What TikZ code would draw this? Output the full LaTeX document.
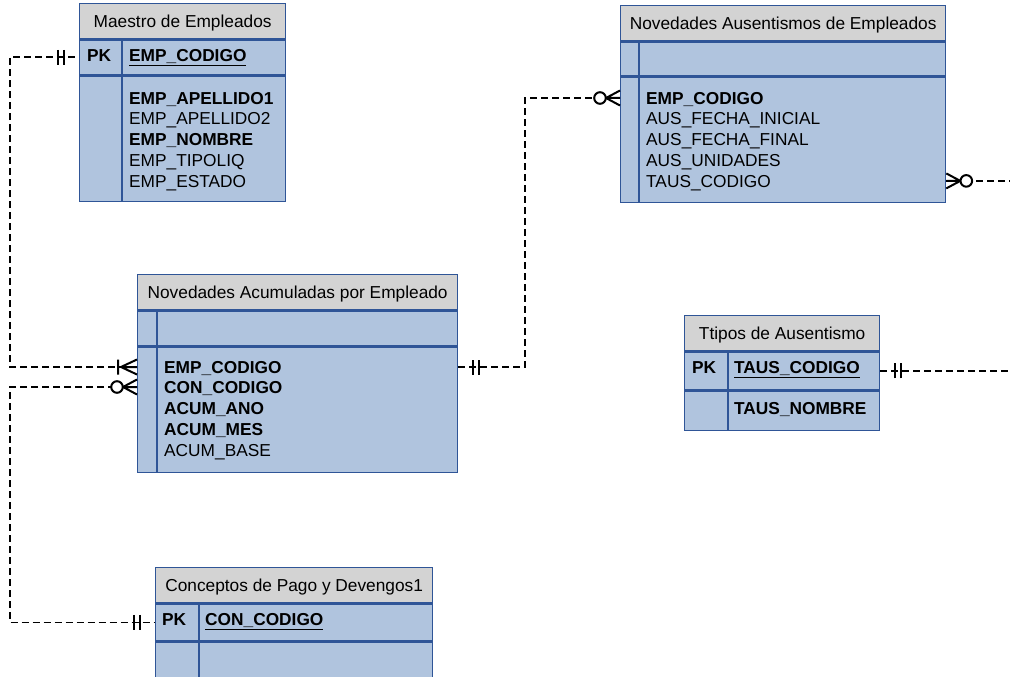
\documentclass[tikz,border=0pt]{standalone}
\usepackage{fontspec}
\setmainfont{Liberation Sans}
\usetikzlibrary{calc}
\definecolor{hdrgray}{RGB}{211,211,211}
\definecolor{rowblue}{RGB}{176,196,222}
\definecolor{edgeblue}{RGB}{47,85,151}
\tikzset{
  % relationship end symbols, drawn with the entity at the origin and the line running to -x
  onlyone/.pic={\draw[sym] (-15,-7.5)--(-15,7.5) (-21,-7.5)--(-21,7.5);},
  onemany/.pic={\draw[sym] (-19,-7.5)--(-19,7.5) (0,-7.5)--(-16,0)--(0,7.5) (-16,0)--(0,0);},
  zeromany/.pic={\draw[sym] (0,-7.5)--(-14,0)--(0,7.5) (-14,0)--(0,0);
                 \draw[sym,fill=white] (-20,0) circle[radius=5.8pt];}
}
\begin{document}
\begin{tikzpicture}[x=1pt,y=-1pt,
  font=\fontsize{17.3}{20.7}\selectfont,
  cell/.style={draw=edgeblue,line width=1.3pt,inner sep=0pt,anchor=north west,rectangle},
  head/.style={cell,fill=hdrgray,text height=12.4pt,text depth=0pt},
  band/.style={cell,fill=rowblue},
  divider/.style={draw=edgeblue,line width=1.3pt},
  field/.style={anchor=west,inner sep=0pt,text height=12.4pt,text depth=0pt},
  key/.style={field,font=\fontsize{17.3}{20.7}\selectfont\bfseries},
  rel/.style={draw=black,line width=1.9pt,dash pattern=on 7pt off 4pt},
  sym/.style={solid,draw=black,line width=2pt}
]
\useasboundingbox (0,0) rectangle (1010,677);
\clip (0,0) rectangle (1010,677);
\fill[white] (0,0) rectangle (1010,677);

% ---------- Maestro de Empleados ----------
\node[head,minimum width=206pt,minimum height=35pt] (emp-h) at (79,3) {Maestro de Empleados};
\node[band,minimum width=206pt,minimum height=35pt] (emp-pk) at (emp-h.south west) {};
\node[band,minimum width=206pt,minimum height=125pt] (emp-b) at (emp-pk.south west) {};
\draw[divider] ($(emp-pk.north west)+(43,0)$) -- ($(emp-b.south west)+(43,0)$);
\node[key] (emp-pkl) at (87,55) {PK};
\node[key] (emp-k) at (129,55) {\underline{EMP\_CODIGO}};
\node[key]   (emp-f1) at (129,98)  {EMP\_APELLIDO1};
\node[field] (emp-f2) at (129,118) {EMP\_APELLIDO2};
\node[key]   (emp-f3) at (129,139) {EMP\_NOMBRE};
\node[field] (emp-f4) at (129,160) {EMP\_TIPOLIQ};
\node[field] (emp-f5) at (129,181) {EMP\_ESTADO};

% ---------- Novedades Ausentismos de Empleados ----------
\node[head,minimum width=325pt,minimum height=35pt] (aus-h) at (620,5) {Novedades Ausentismos de Empleados};
\node[band,minimum width=325pt,minimum height=34pt] (aus-pk) at (aus-h.south west) {};
\node[band,minimum width=325pt,minimum height=125pt] (aus-b) at (aus-pk.south west) {};
\draw[divider] ($(aus-pk.north west)+(19,0)$) -- ($(aus-b.south west)+(19,0)$);
\node[key]   (aus-f1) at (646,98)  {EMP\_CODIGO};
\node[field] (aus-f2) at (646,118) {AUS\_FECHA\_INICIAL};
\node[field] (aus-f3) at (646,139) {AUS\_FECHA\_FINAL};
\node[field] (aus-f4) at (646,160) {AUS\_UNIDADES};
\node[field] (aus-f5) at (646,181) {TAUS\_CODIGO};

% ---------- Novedades Acumuladas por Empleado ----------
\node[head,minimum width=320pt,minimum height=35pt] (acum-h) at (137,274) {Novedades Acumuladas por Empleado};
\node[band,minimum width=320pt,minimum height=35pt] (acum-pk) at (acum-h.south west) {};
\node[band,minimum width=320pt,minimum height=125pt] (acum-b) at (acum-pk.south west) {};
\draw[divider] ($(acum-pk.north west)+(20,0)$) -- ($(acum-b.south west)+(20,0)$);
\node[key]   (acum-f1) at (164,367) {EMP\_CODIGO};
\node[key]   (acum-f2) at (164,387) {CON\_CODIGO};
\node[key]   (acum-f3) at (164,408) {ACUM\_ANO};
\node[key]   (acum-f4) at (164,429) {ACUM\_MES};
\node[field] (acum-f5) at (164,450) {ACUM\_BASE};

% ---------- Ttipos de Ausentismo ----------
\node[head,minimum width=195pt,minimum height=35pt] (taus-h) at (684,315) {Ttipos de Ausentismo};
\node[band,minimum width=195pt,minimum height=38pt] (taus-pk) at (taus-h.south west) {};
\node[band,minimum width=195pt,minimum height=39pt] (taus-b) at (taus-pk.south west) {};
\draw[divider] ($(taus-pk.north west)+(44,0)$) -- ($(taus-b.south west)+(44,0)$);
\node[key] (taus-pkl) at (692,367) {PK};
\node[key] (taus-k) at (734,367) {\underline{TAUS\_CODIGO}};
\node[key] (taus-f1) at (734,408) {TAUS\_NOMBRE};

% ---------- Conceptos de Pago y Devengos1 ----------
\node[head,minimum width=277pt,minimum height=35pt] (con-h) at (155,567) {Conceptos de Pago y Devengos1};
\node[band,minimum width=277pt,minimum height=37pt] (con-pk) at (con-h.south west) {};
\node[band,minimum width=277pt,minimum height=60pt] (con-b) at (con-pk.south west) {};
\draw[divider] ($(con-pk.north west)+(44,0)$) -- ($(con-b.south west)+(44,0)$);
\node[key] (con-pkl) at (162,619) {PK};
\node[key] (con-k) at (205,619) {\underline{CON\_CODIGO}};

% ---------- relationship lanes and end points ----------
\coordinate (lane-l) at (10,0);
\coordinate (lane-m) at (525,0);
\coordinate (lane-r) at (1040,0);
\coordinate (acum-l1) at (acum-b.west |- acum-f1.west);
\coordinate (acum-l2) at (acum-b.west |- acum-f2.west);
\coordinate (acum-r1) at (acum-b.east |- acum-f1.west);
\coordinate (aus-l1) at (aus-b.west |- aus-f1.west);
\coordinate (aus-r5) at ($(aus-b.south east)+(0,-22)$);

% Empleado 1 -- N Acumuladas
\draw[rel] (acum-l1) -- (lane-l |- acum-l1) -- (lane-l |- emp-pk.west) -- (emp-pk.west);
\pic at (emp-pk.west) {onlyone};
\pic at (acum-l1) {onemany};

% Concepto 1 -- N Acumuladas
\draw[rel] (acum-l2) -- (lane-l |- acum-l2) -- (lane-l |- con-pk.west) -- (con-pk.west);
\pic at (con-pk.west) {onlyone};
\pic at (acum-l2) {zeromany};

% Acumuladas 1 -- N Ausentismos
\draw[rel] (acum-r1) -- (lane-m |- acum-r1) -- (lane-m |- aus-l1) -- (aus-l1);
\pic[rotate=180] at (acum-r1) {onlyone};
\pic at (aus-l1) {zeromany};

% Tipo de ausentismo 1 -- N Ausentismos
\draw[rel] (taus-pk.east) -- (lane-r |- taus-pk.east) -- (lane-r |- aus-r5) -- (aus-r5);
\pic[rotate=180] at (taus-pk.east) {onlyone};
\pic[rotate=180] at (aus-r5) {zeromany};
\end{tikzpicture}
\end{document}
